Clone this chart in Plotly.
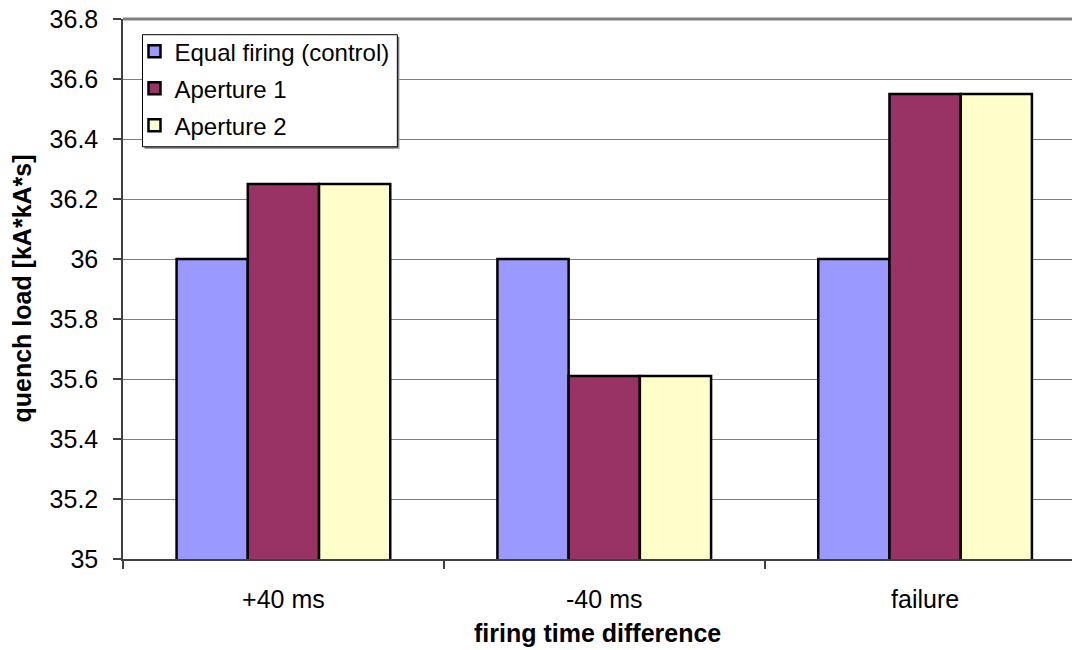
import plotly.graph_objects as go

# Quench load per firing scenario
categories = ["+40 ms", "-40 ms", "failure"]
equal_firing = [36.0, 36.0, 36.0]
aperture_1 = [36.25, 35.61, 36.55]
aperture_2 = [36.25, 35.61, 36.55]

series_names = ["Equal firing (control)", "Aperture 1", "Aperture 2"]
series_colors = ["#9999FF", "#993366", "#FFFFCC"]

y_min, y_max, y_step = 35.0, 36.8, 0.2

W, H = 1072, 650
L, T, B = 122.5, 19.3, 91
plot_w = W - L
plot_h = H - T - B
cat_px = 321.0  # pixels per category

FONT = "Arial, Liberation Sans, sans-serif"


def px_x(p):
    return (p - L) / plot_w


def px_y(p):
    return 1 - (p - T) / plot_h


legend_ids = ["legend", "legend2", "legend3"]
legend_rows = [52, 89, 126]  # vertical centre of each legend entry, px

fig = go.Figure()
for name, vals, col, lid in zip(series_names, [equal_firing, aperture_1, aperture_2],
                                series_colors, legend_ids):
    fig.add_trace(go.Bar(
        x=categories, y=vals, name=name, legend=lid,
        marker=dict(color=col, line=dict(color="black", width=2.5)),
    ))

shapes = [
    # top frame line
    dict(type="line", xref="paper", yref="paper", x0=0, x1=1, y0=1, y1=1,
         line=dict(color="#808080", width=3), layer="below"),
    # legend shadow and box
    dict(type="rect", xref="paper", yref="paper",
         x0=px_x(144), x1=px_x(399), y0=px_y(149), y1=px_y(37),
         fillcolor="#808080", line=dict(width=0), layer="above"),
    dict(type="rect", xref="paper", yref="paper",
         x0=px_x(142), x1=px_x(397), y0=px_y(147), y1=px_y(35),
         fillcolor="white", line=dict(color="black", width=1), layer="above"),
]

legend_style = dict(
    x=px_x(134), xanchor="left", yanchor="middle",
    bgcolor="rgba(0,0,0,0)", borderwidth=0,
    font=dict(family=FONT, size=24, color="black"),
)

fig.update_layout(
    width=W, height=H,
    margin=dict(l=L, r=0, t=T, b=B, pad=0),
    paper_bgcolor="white", plot_bgcolor="white",
    font=dict(family=FONT, size=25, color="black"),
    barmode="group", bargap=0.334, bargroupgap=0,
    showlegend=True,
    shapes=shapes,
    annotations=[
        dict(text="<b>firing time difference</b>", xref="paper", yref="paper",
             x=0.5, y=px_y(633), xanchor="center", yanchor="middle",
             showarrow=False, font=dict(family=FONT, size=25)),
        dict(text="<b>quench load [kA*kA*s]</b>", xref="paper", yref="paper",
             x=px_x(21), y=0.5, xanchor="center", yanchor="middle", textangle=-90,
             showarrow=False, font=dict(family=FONT, size=25)),
    ],
)
for lid, row in zip(legend_ids, legend_rows):
    fig.update_layout({lid: dict(legend_style, y=px_y(row))})

fig.update_xaxes(
    type="category",
    range=[-0.5, -0.5 + plot_w / cat_px],
    showgrid=False, zeroline=False,
    showline=True, linecolor="#404040", linewidth=2,
    ticks="outside", tickson="boundaries", ticklen=8, tickwidth=1.5, tickcolor="#404040",
    tickfont=dict(family=FONT, size=25), ticklabelstandoff=17,
)
fig.update_yaxes(
    range=[y_min, y_max], tickmode="linear", tick0=y_min, dtick=y_step,
    showgrid=True, gridcolor="#808080", gridwidth=1, zeroline=False,
    showline=True, linecolor="#404040", linewidth=1.5,
    ticks="outside", ticklen=8, tickwidth=1.5, tickcolor="#404040",
    tickfont=dict(family=FONT, size=25), ticklabelstandoff=10,
)

fig.write_html("out.html")
